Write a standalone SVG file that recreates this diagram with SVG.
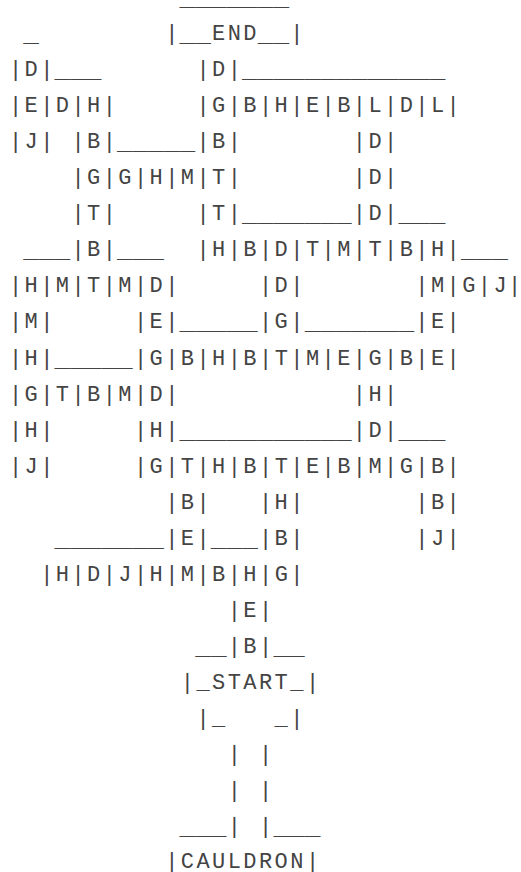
<svg xmlns="http://www.w3.org/2000/svg" width="521" height="872" viewBox="0 0 521 872">
<style>
text { font-family: "Liberation Mono", "Courier New", monospace; font-size: 22px; fill: #444; }
.t { letter-spacing: 2.43px; }
</style>
<rect width="521" height="872" fill="#fff"/>
<g id="end-node">
<text class="u" x="179.62" y="6" textLength="109.41" lengthAdjust="spacingAndGlyphs">_______</text>
<text class="t" x="165.20" y="40.05">|</text>
<text class="u" x="179.62" y="42.05" textLength="31.26" lengthAdjust="spacingAndGlyphs">__</text>
<text class="t" x="212.09" y="40.05">END</text>
<text class="u" x="257.77" y="42.05" textLength="31.26" lengthAdjust="spacingAndGlyphs">__</text>
<text x="290.24" y="40.05">|</text>
</g>
<g id="maze">
<g id="row-1"><text class="u" x="23.32" y="42.05" textLength="15.63" lengthAdjust="spacingAndGlyphs">_</text></g>
<g id="row-2">
<text class="t" x="8.90" y="76.1">|D|</text>
<text class="u" x="54.58" y="78.1" textLength="46.89" lengthAdjust="spacingAndGlyphs">___</text>
<text class="t" x="196.46" y="76.1">|D|</text>
<text class="u" x="242.14" y="78.1" textLength="203.19" lengthAdjust="spacingAndGlyphs">_____________</text>
</g>
<g id="row-3">
<text class="t" x="8.90" y="112.15">|E|D|H|</text>
<text class="t" x="196.46" y="112.15">|G|B|H|E|B|L|D|L|</text>
</g>
<g id="row-4">
<text class="t" x="8.90" y="148.2">|J|</text>
<text class="t" x="71.42" y="148.2">|B|</text>
<text class="u" x="117.10" y="150.2" textLength="78.15" lengthAdjust="spacingAndGlyphs">_____</text>
<text class="t" x="196.46" y="148.2">|B|</text>
<text class="t" x="352.76" y="148.2">|D|</text>
</g>
<g id="row-5">
<text class="t" x="71.42" y="184.25">|G|G|H|M|T|</text>
<text class="t" x="352.76" y="184.25">|D|</text>
</g>
<g id="row-6">
<text class="t" x="71.42" y="220.3">|T|</text>
<text class="t" x="196.46" y="220.3">|T|</text>
<text class="u" x="242.14" y="222.3" textLength="109.41" lengthAdjust="spacingAndGlyphs">_______</text>
<text class="t" x="352.76" y="220.3">|D|</text>
<text class="u" x="398.44" y="222.3" textLength="46.89" lengthAdjust="spacingAndGlyphs">___</text>
</g>
<g id="row-7">
<text class="u" x="23.32" y="258.35" textLength="46.89" lengthAdjust="spacingAndGlyphs">___</text>
<text class="t" x="71.42" y="256.35">|B|</text>
<text class="u" x="117.10" y="258.35" textLength="46.89" lengthAdjust="spacingAndGlyphs">___</text>
<text class="t" x="196.46" y="256.35">|H|B|D|T|M|T|B|H|</text>
<text class="u" x="460.96" y="258.35" textLength="46.89" lengthAdjust="spacingAndGlyphs">___</text>
</g>
<g id="row-8">
<text class="t" x="8.90" y="292.4">|H|M|T|M|D|</text>
<text class="t" x="258.98" y="292.4">|D|</text>
<text class="t" x="415.28" y="292.4">|M|G|J</text>
<text x="508.06" y="292.4">|</text>
</g>
<g id="row-9">
<text class="t" x="8.90" y="328.45">|M|</text>
<text class="t" x="133.94" y="328.45">|E|</text>
<text class="u" x="179.62" y="330.45" textLength="78.15" lengthAdjust="spacingAndGlyphs">_____</text>
<text class="t" x="258.98" y="328.45">|G|</text>
<text class="u" x="304.66" y="330.45" textLength="109.41" lengthAdjust="spacingAndGlyphs">_______</text>
<text class="t" x="415.28" y="328.45">|E|</text>
</g>
<g id="row-10">
<text class="t" x="8.90" y="364.5">|H|</text>
<text class="u" x="54.58" y="366.5" textLength="78.15" lengthAdjust="spacingAndGlyphs">_____</text>
<text class="t" x="133.94" y="364.5">|G|B|H|B|T|M|E|G|B|E|</text>
</g>
<g id="row-11">
<text class="t" x="8.90" y="400.55">|G|T|B|M|D|</text>
<text class="t" x="352.76" y="400.55">|H|</text>
</g>
<g id="row-12">
<text class="t" x="8.90" y="436.6">|H|</text>
<text class="t" x="133.94" y="436.6">|H|</text>
<text class="u" x="179.62" y="438.6" textLength="171.93" lengthAdjust="spacingAndGlyphs">___________</text>
<text class="t" x="352.76" y="436.6">|D|</text>
<text class="u" x="398.44" y="438.6" textLength="46.89" lengthAdjust="spacingAndGlyphs">___</text>
</g>
<g id="row-13">
<text class="t" x="8.90" y="472.65">|J|</text>
<text class="t" x="133.94" y="472.65">|G|T|H|B|T|E|B|M|G|B|</text>
</g>
<g id="row-14">
<text class="t" x="165.20" y="508.7">|B|</text>
<text class="t" x="258.98" y="508.7">|H|</text>
<text class="t" x="415.28" y="508.7">|B|</text>
</g>
<g id="row-15">
<text class="u" x="54.58" y="546.75" textLength="109.41" lengthAdjust="spacingAndGlyphs">_______</text>
<text class="t" x="165.20" y="544.75">|E|</text>
<text class="u" x="210.88" y="546.75" textLength="46.89" lengthAdjust="spacingAndGlyphs">___</text>
<text class="t" x="258.98" y="544.75">|B|</text>
<text class="t" x="415.28" y="544.75">|J|</text>
</g>
<g id="row-16">
<text class="t" x="40.16" y="580.8">|H|D|J|H|M|B|H|G|</text>
</g>
<g id="row-17">
<text class="t" x="227.72" y="616.85">|E|</text>
</g>
<g id="row-18">
<text class="u" x="195.25" y="654.9" textLength="31.26" lengthAdjust="spacingAndGlyphs">__</text>
<text class="t" x="227.72" y="652.9">|B|</text>
<text class="u" x="273.40" y="654.9" textLength="31.26" lengthAdjust="spacingAndGlyphs">__</text>
</g>
</g>
<g id="start-node">
<text class="t" x="180.83" y="688.95">|_START_|</text>
</g>
<g id="connectors">
<text class="t" x="196.46" y="725">|_</text>
<text class="t" x="274.61" y="725">_|</text>
<text class="t" x="227.72" y="761.05">|</text>
<text class="t" x="258.98" y="761.05">|</text>
<text class="t" x="227.72" y="797.1">|</text>
<text class="t" x="258.98" y="797.1">|</text>
<text class="u" x="179.62" y="835.15" textLength="46.89" lengthAdjust="spacingAndGlyphs">___</text>
<text class="t" x="227.72" y="833.15">|</text>
<text class="t" x="258.98" y="833.15">|</text>
<text class="u" x="273.40" y="835.15" textLength="46.89" lengthAdjust="spacingAndGlyphs">___</text>
</g>
<g id="cauldron-node">
<text class="t" x="165.20" y="867.5">|CAULDRON|</text>
</g>
</svg>
